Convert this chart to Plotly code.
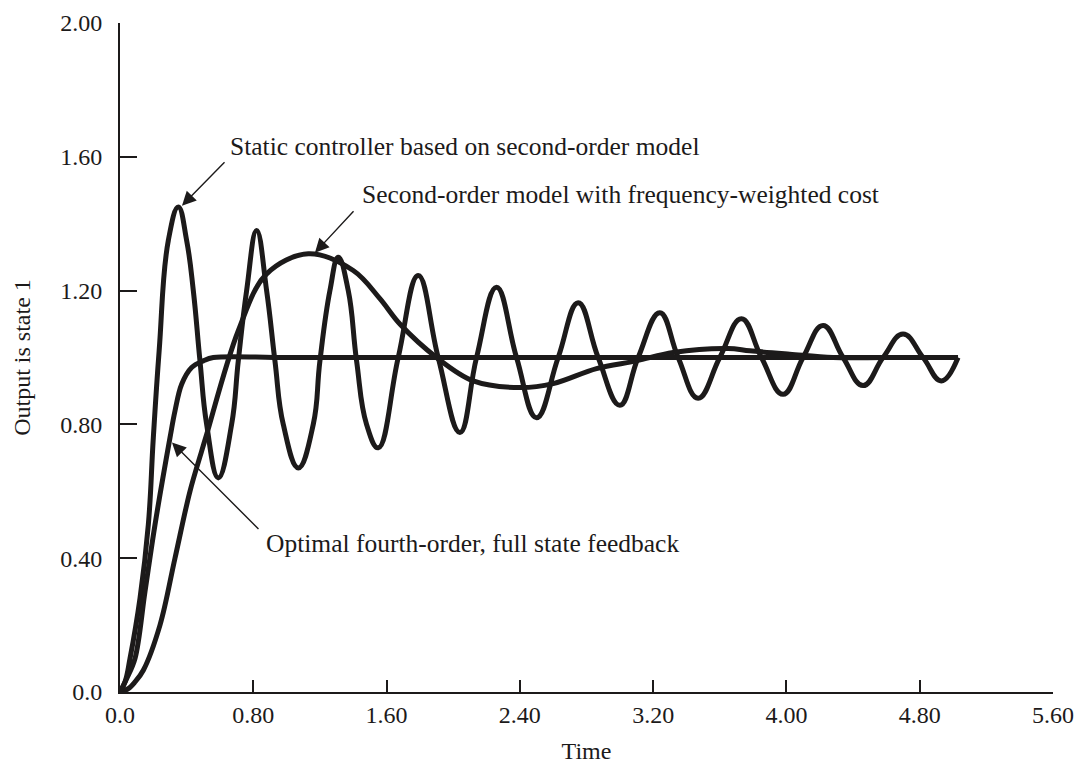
import plotly.graph_objects as go

# ---- data ----
static_t = [0, 0.03, 0.06, 0.12, 0.17, 0.20, 0.235, 0.29, 0.35, 0.40, 0.44, 0.48, 0.52, 0.59,
            0.67, 0.71, 0.76, 0.82, 0.88, 0.93, 0.98, 1.07, 1.16, 1.20, 1.26, 1.31, 1.37, 1.42, 1.48, 1.55,
            1.67, 1.79, 1.91, 2.04, 2.14, 2.26, 2.38, 2.50, 2.63, 2.75, 2.87, 3.00, 3.11, 3.24,
            3.35, 3.47, 3.60, 3.73, 3.85, 3.98, 4.10, 4.22, 4.34, 4.46, 4.58, 4.70, 4.82, 4.93, 5.03]
static_y = [0, 0.03, 0.10, 0.28, 0.50, 0.76, 1.02, 1.35, 1.45, 1.35, 1.20, 0.99, 0.80, 0.64,
            0.80, 0.99, 1.20, 1.38, 1.20, 0.99, 0.80, 0.67, 0.80, 0.99, 1.20, 1.30, 1.20, 0.99, 0.80, 0.73,
            1.00, 1.245, 1.00, 0.776, 1.00, 1.21, 1.00, 0.82, 1.00, 1.164, 1.00, 0.857, 1.00, 1.134,
            1.00, 0.878, 1.00, 1.116, 1.00, 0.89, 1.00, 1.096, 1.00, 0.916, 1.00, 1.07, 1.00, 0.93, 1.00]

second_t = [0, 0.05, 0.09, 0.14, 0.24, 0.33, 0.42, 0.49, 0.52, 0.71, 0.88, 1.13, 1.40, 1.56, 1.68,
            1.90, 2.12, 2.40, 2.60, 2.86, 3.10, 3.32, 3.65, 3.78, 4.02, 4.28, 4.60, 5.03]
second_y = [0, 0.01, 0.03, 0.065, 0.20, 0.40, 0.60, 0.72, 0.77, 1.08, 1.25, 1.31, 1.26, 1.176, 1.10,
            1.00, 0.93, 0.91, 0.922, 0.967, 0.99, 1.015, 1.027, 1.02, 1.01, 1.00, 1.00, 1.00]

optimal_t = [0, 0.04, 0.09, 0.15, 0.21, 0.30, 0.33, 0.37, 0.43, 0.50, 0.56, 1.0, 2.0, 3.0, 4.0, 5.03]
optimal_y = [0, 0.04, 0.10, 0.30, 0.50, 0.76, 0.84, 0.92, 0.97, 0.99, 1.00, 1.00, 1.00, 1.00, 1.00, 1.00]

x_ticks = [0, 0.8, 1.6, 2.4, 3.2, 4.0, 4.8, 5.6]
x_tick_text = ["0.0", "0.80", "1.60", "2.40", "3.20", "4.00", "4.80", "5.60"]
y_ticks = [0, 0.4, 0.8, 1.2, 1.6, 2.0]
y_tick_text = ["0.0", "0.40", "0.80", "1.20", "1.60", "2.00"]

labels = ["Static controller based on second-order model",
          "Second-order model with frequency-weighted cost",
          "Optimal fourth-order, full state feedback"]

FONT = "Liberation Serif, Times New Roman, serif"
INK = "#1c1a1a"

fig = go.Figure()
for t, y, sm in [(static_t, static_y, 1.25), (second_t, second_y, 1.0), (optimal_t, optimal_y, 1.0)]:
    fig.add_trace(go.Scatter(x=t, y=y, mode="lines",
                             line=dict(color=INK, width=5, shape="spline", smoothing=sm),
                             showlegend=False, hoverinfo="skip"))

# text labels
text_pos = [(0.649, 1.630), (1.441, 1.487), (0.865, 0.445)]
for lab, (tx, ty) in zip(labels, text_pos):
    fig.add_annotation(x=tx, y=ty, text=lab, showarrow=False, xanchor="left", yanchor="middle",
                       font=dict(family=FONT, size=25.5, color=INK))

# arrows (head in data coords, tail offset in px)
arrows = [(0.372, 1.454, 44, -45), (1.17, 1.313, 40, -43), (0.312, 0.746, 88, 88)]
for hx, hy, ax, ay in arrows:
    fig.add_annotation(x=hx, y=hy, ax=ax, ay=ay, text="", showarrow=True,
                       arrowhead=2, arrowsize=2.0, arrowwidth=1.4, arrowcolor=INK)

# page body has an 8px margin, so the figure is sized/margined to compensate
fig.update_layout(
    width=1074, height=756,
    margin=dict(l=112, r=29, t=15, b=72),
    paper_bgcolor="white", plot_bgcolor="white",
    font=dict(family=FONT, size=24, color=INK),
)
fig.update_xaxes(range=[0, 5.6], tickvals=x_ticks, ticktext=x_tick_text, automargin=False,
                 showgrid=False, zeroline=False, showline=True, linecolor=INK, linewidth=2,
                 ticks="inside", ticklen=12, tickwidth=1.5, tickcolor=INK,
                 ticklabelstandoff=0,
                 title=dict(text="Time", standoff=17, font=dict(family=FONT, size=24)))
fig.update_yaxes(range=[0, 2.0], tickvals=y_ticks, ticktext=y_tick_text, automargin=False,
                 showgrid=False, zeroline=False, showline=True, linecolor=INK, linewidth=2,
                 ticks="inside", ticklen=17, tickwidth=1.5, tickcolor=INK,
                 ticklabelstandoff=11,
                 title=dict(text="Output is state 1", standoff=23, font=dict(family=FONT, size=24)))

fig.write_html("out.html")
